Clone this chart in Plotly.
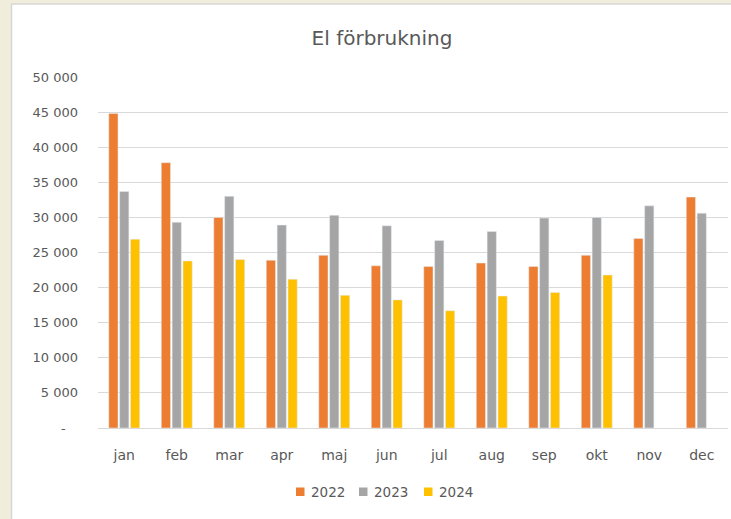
import plotly.graph_objects as go

months = ["jan", "feb", "mar", "apr", "maj", "jun", "jul", "aug", "sep", "okt", "nov", "dec"]
years = ["2022", "2023", "2024"]
v2022 = [44800, 37800, 30000, 23900, 24600, 23100, 23000, 23500, 23000, 24600, 27000, 32900]
v2023 = [33700, 29300, 33000, 28900, 30300, 28800, 26700, 28000, 29900, 30000, 31650, 30600]
v2024 = [26900, 23800, 24000, 21200, 18900, 18250, 16700, 18800, 19300, 21800, None, None]
colors = ["#ED7D31", "#A5A5A5", "#FFC000"]

tick_vals = [0, 5000, 10000, 15000, 20000, 25000, 30000, 35000, 40000, 45000, 50000]
tick_text = ["-   ", "5 000", "10 000", "15 000", "20 000", "25 000", "30 000",
             "35 000", "40 000", "45 000", "50 000"]

W, H = 731, 519
L, R, T, B = 98, 3, 77, 91
pw = W - L - R
ph = H - T - B

def px_x(p):
    return (p - L) / pw

def px_y(p):
    return (H - B - p) / ph

font_fam = "DejaVu Sans, Verdana, sans-serif"
txt = "#595959"

fig = go.Figure()
for name, vals, col in zip(years, [v2022, v2023, v2024], colors):
    fig.add_bar(x=months, y=vals, name=name, marker_color=col, showlegend=False)

shapes = [dict(type="rect", xref="paper", yref="paper", layer="below",
               x0=px_x(11.5), x1=px_x(745), y0=px_y(540), y1=px_y(4),
               fillcolor="white", line=dict(color="#D6D6D6", width=1.5))]
annotations = []
# manual legend (compact, Excel-like)
leg_sq_x = [296, 359, 424]
for name, col, sx in zip(years, colors, leg_sq_x):
    shapes.append(dict(type="rect", xref="paper", yref="paper",
                       x0=px_x(sx), x1=px_x(sx + 8.5), y0=px_y(496), y1=px_y(487.5),
                       fillcolor=col, line=dict(width=0)))
    annotations.append(dict(text=name, xref="paper", yref="paper",
                            x=px_x(sx + 12.5), y=px_y(491.5), xanchor="left",
                            yanchor="middle", showarrow=False,
                            font=dict(size=13.5, color=txt, family=font_fam)))

fig.update_layout(
    width=W, height=H,
    margin=dict(l=L, r=R, t=T, b=B, pad=0),
    paper_bgcolor="#F1EDDC",
    plot_bgcolor="rgba(0,0,0,0)",
    barmode="group",
    bargap=0.38,
    bargroupgap=0.15,
    font=dict(family=font_fam, color=txt, size=13),
    title=dict(text="El förbrukning", x=382 / W, xanchor="center",
               y=1 - 38 / H, yanchor="middle",
               font=dict(size=20, color=txt, family=font_fam)),
    showlegend=False,
    shapes=shapes,
    annotations=annotations,
)
fig.update_xaxes(showgrid=False, showline=True, linecolor="#D9D9D9", linewidth=1,
                 ticks="", tickfont=dict(size=14, color=txt), ticklabelstandoff=14)
fig.update_yaxes(range=[0, 50000], tickvals=tick_vals, ticktext=tick_text,
                 showgrid=True, gridcolor="#D9D9D9", gridwidth=1,
                 zeroline=False, showline=False, ticks="",
                 tickfont=dict(size=13, color=txt), ticklabelstandoff=19)

fig.write_html("out.html", config={"displayModeBar": False},
               post_script="document.body.style.margin='0';document.body.style.padding='0';")
